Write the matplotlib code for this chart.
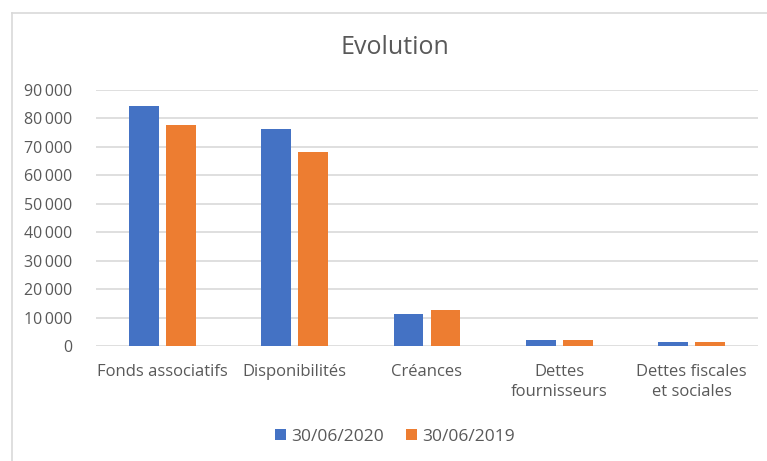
import numpy as np
import matplotlib.pyplot as plt
from matplotlib.lines import Line2D

categories = ["Fonds associatifs", "Disponibilités", "Créances",
              "Dettes\nfournisseurs", "Dettes fiscales\net sociales"]
series_2020 = [84500, 76300, 11100, 2100, 1500]
series_2019 = [77800, 68300, 12700, 2000, 1400]
labels = ["30/06/2020", "30/06/2019"]
yticks = list(range(0, 90001, 10000))

blue = "#4472C4"
orange = "#ED7D31"
txt = "#595959"

plt.rcParams['font.family'] = ['Open Sans', 'DejaVu Sans']

fig = plt.figure(figsize=(7.67, 4.61), dpi=100)
ax = fig.add_axes([96/767, 1-346/461, 662/767, 256/461])

x = np.arange(len(categories))
w = 0.226
off = 0.14
ax.bar(x - off, series_2020, w, color=blue, label=labels[0], zorder=3)
ax.bar(x + off, series_2019, w, color=orange, label=labels[1], zorder=3)

ax.set_xlim(-0.5, len(categories) - 0.5)
ax.set_ylim(0, 90000)
ax.set_yticks(yticks)
ax.set_yticklabels([f"{v:,}".replace(",", "\u2009") for v in yticks], fontsize=11.5)
ax.set_xticks(x)
ax.set_xticklabels(categories, linespacing=1.35, fontsize=12)
ax.tick_params(axis='both', length=0, colors=txt)
ax.tick_params(axis='y', pad=17)
ax.tick_params(axis='x', pad=13)
ax.grid(axis='y', color="#D9D9D9", linewidth=1.2, zorder=0)
for s in ax.spines.values():
    s.set_visible(False)

fig.text(395/767, 1-47/461, "Evolution", ha='center', va='center',
         fontsize=18, color=txt)

# chart border (left and top visible)
fig.add_artist(Line2D([12/767, 12/767], [0, 1-13/461], color="#D9D9D9", lw=1.2))
fig.add_artist(Line2D([12/767, 1], [1-13/461, 1-13/461], color="#D9D9D9", lw=1.2))

handles, lbls = ax.get_legend_handles_labels()
fig.legend(handles, lbls, loc='center', bbox_to_anchor=(395/767, 1-437/461),
           ncol=2, frameon=False, fontsize=12.5, labelcolor=txt,
           handlelength=0.6, handleheight=0.6, handletextpad=0.3,
           columnspacing=1.3)

fig.savefig("out.png", dpi=100)
